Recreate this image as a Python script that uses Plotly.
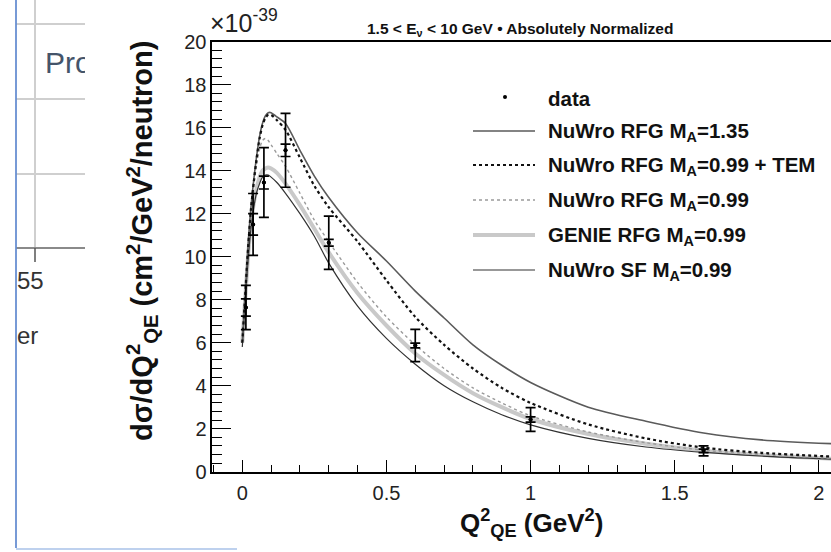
import plotly.graph_objects as go

W, H = 831, 552

# ---------------- data ----------------
q2_data = [0.0125, 0.0375, 0.075, 0.15, 0.3, 0.6, 1.0, 1.6]
xs_data = [7.64, 11.5, 13.45, 14.95, 10.65, 5.87, 2.43, 0.97]
err_stat = [0.40, 0.50, 0.30, 0.29, 0.16, 0.11, 0.12, 0.08]
err_total = [1.03, 1.44, 1.62, 1.72, 1.24, 0.75, 0.55, 0.23]

q2_model = [0.0, 0.01, 0.02, 0.03, 0.04, 0.05, 0.06, 0.07, 0.08, 0.09, 0.10, 0.12,
            0.15, 0.20, 0.25, 0.30, 0.40, 0.50, 0.60, 0.70, 0.80, 0.90, 1.00, 1.20,
            1.40, 1.60, 1.80, 2.05]
nuwro_rfg_135 = [6.0, 8.2, 10.5, 12.3, 13.6, 14.7, 15.6, 16.2, 16.55, 16.7, 16.7, 16.5,
                 16.2, 14.95, 13.75, 12.75, 11.1, 9.8, 8.4, 7.15, 5.9, 4.95, 4.15, 3.0,
                 2.35, 1.8, 1.48, 1.3]
nuwro_rfg_099_tem = [6.0, 8.2, 10.4, 12.2, 13.5, 14.6, 15.5, 16.1, 16.45, 16.6, 16.6, 16.35,
                     15.9, 14.6, 13.3, 12.3, 10.7, 8.9, 7.2, 5.9, 4.8, 3.9, 3.2, 2.2,
                     1.55, 1.12, 0.88, 0.7]
nuwro_rfg_099 = [6.0, 8.1, 10.3, 12.0, 13.3, 14.3, 15.0, 15.4, 15.5, 15.4, 15.2, 14.8,
                 14.2, 12.95, 11.7, 10.7, 8.8, 7.2, 5.9, 4.8, 3.9, 3.2, 2.6, 1.85,
                 1.35, 1.0, 0.8, 0.62]
genie_rfg_099 = [6.0, 8.0, 10.0, 11.5, 12.5, 13.2, 13.7, 14.0, 14.1, 14.15, 14.1, 13.9,
                 13.4, 12.4, 11.3, 10.2, 8.3, 6.8, 5.5, 4.5, 3.65, 3.0, 2.45, 1.75,
                 1.3, 0.98, 0.78, 0.6]
nuwro_sf_099 = [5.8, 7.9, 9.8, 11.3, 12.3, 13.0, 13.4, 13.7, 13.8, 13.8, 13.7, 13.45,
                12.95, 12.0, 10.95, 9.7, 7.7, 6.2, 5.0, 4.0, 3.25, 2.65, 2.18, 1.55,
                1.15, 0.9, 0.73, 0.58]

legend_labels = ["data", "NuWro RFG M<sub>A</sub>=1.35", "NuWro RFG M<sub>A</sub>=0.99 + TEM",
                 "NuWro RFG M<sub>A</sub>=0.99", "GENIE RFG M<sub>A</sub>=0.99",
                 "NuWro SF M<sub>A</sub>=0.99"]

x_ticks = [0, 0.5, 1, 1.5, 2]
x_tick_text = ["0", "0.5", "1", "1.5", "2"]
y_ticks = [0, 2, 4, 6, 8, 10, 12, 14, 16, 18, 20]

# ---------------- styles ----------------
styles = {
    "a": dict(color="#5a5a5a", width=1.6, dash="solid"),
    "b": dict(color="#111111", width=2.2, dash="3px,3px"),
    "c": dict(color="#9a9a9a", width=1.4, dash="3px,3px"),
    "d": dict(color="#c9c9c9", width=4.0, dash="solid"),
    "e": dict(color="#333333", width=1.2, dash="solid"),
}

FONT = "Liberation Sans, Arial, Helvetica, sans-serif"


def px(xp):
    return xp / W


def py(yp):
    return 1 - yp / H


fig = go.Figure()

curves = [("d", genie_rfg_099), ("e", nuwro_sf_099), ("c", nuwro_rfg_099),
          ("a", nuwro_rfg_135), ("b", nuwro_rfg_099_tem)]
for key, vals in curves:
    s = styles[key]
    fig.add_trace(go.Scatter(x=q2_model, y=vals, mode="lines",
                             line=dict(color=s["color"], width=s["width"], dash=s["dash"],
                                       shape="spline", smoothing=0.8),
                             showlegend=False, xaxis="x", yaxis="y"))

# data with total and stat error bars
fig.add_trace(go.Scatter(x=q2_data, y=xs_data, mode="markers",
                         marker=dict(color="black", size=4),
                         error_y=dict(type="data", array=err_total, color="black",
                                      thickness=1.7, width=5),
                         showlegend=False, xaxis="x", yaxis="y"))
fig.add_trace(go.Scatter(x=q2_data, y=xs_data, mode="markers",
                         marker=dict(color="black", size=4),
                         error_y=dict(type="data", array=err_stat, color="black",
                                      thickness=1.7, width=5),
                         showlegend=False, xaxis="x", yaxis="y"))

# left webpage fragment texts (clipped subplot)
fig.add_trace(go.Scatter(x=[45, 17, 17], y=[65, 283, 338], mode="text",
                         text=["Pro", "55", "er"], textposition="middle right",
                         textfont=dict(family=FONT, size=[30, 24, 24],
                                       color=["#44546a", "#333333", "#333333"]),
                         cliponaxis=True, showlegend=False, xaxis="x2", yaxis="y2"))

x0_px, x1_px = 212.3, 831.0
y_top_px, y_bot_px = 41.7, 471.7

fig.update_layout(
    width=W, height=H,
    margin=dict(l=0, r=0, t=0, b=0, pad=0, autoexpand=False),
    paper_bgcolor="white", plot_bgcolor="white",
    font=dict(family=FONT, color="#111111"),
    xaxis=dict(domain=[px(x0_px), px(x1_px)], range=[-0.104, 2.042],
               tickvals=x_ticks, ticktext=x_tick_text,
               ticks="inside", ticklen=12, tickwidth=1.3, tickcolor="black",
               minor=dict(dtick=0.1, tick0=0, ticks="inside", ticklen=7, tickwidth=1.2,
                          tickcolor="black", showgrid=False),
               showline=True, linecolor="black", linewidth=1.8, mirror=True,
               showgrid=False, zeroline=False, automargin=False,
               tickfont=dict(size=20, color="#222222"), ticklabelstandoff=2,
               anchor="y"),
    yaxis=dict(domain=[py(y_bot_px), py(y_top_px)], range=[0, 20],
               tickvals=y_ticks,
               ticks="inside", ticklen=19, tickwidth=1.3, tickcolor="black",
               minor=dict(dtick=0.4, tick0=0, ticks="inside", ticklen=10, tickwidth=1.2,
                          tickcolor="black", showgrid=False),
               showline=True, linecolor="black", linewidth=1.6,
               showgrid=False, zeroline=False, automargin=False,
               tickfont=dict(size=20, color="#222222"), ticklabelstandoff=0,
               anchor="x"),
    xaxis2=dict(domain=[px(16.5), px(85)], range=[16.5, 85], visible=False,
                fixedrange=True, anchor="y2", automargin=False),
    yaxis2=dict(domain=[0, 1], range=[H, 0], visible=False, fixedrange=True,
                anchor="x2", automargin=False),
)

shapes = []
# left fragment: grid lines
for yy in [24, 99, 174]:
    shapes.append(dict(type="line", xref="x2", yref="y2", x0=16, x1=90, y0=yy, y1=yy,
                       line=dict(color="#cfcfcf", width=2)))
shapes.append(dict(type="line", xref="x2", yref="y2", x0=35, x1=35, y0=0, y1=248,
                   line=dict(color="#cfcfcf", width=2)))
shapes.append(dict(type="line", xref="x2", yref="y2", x0=16, x1=90, y0=248, y1=248,
                   line=dict(color="#8a8a8a", width=2)))
shapes.append(dict(type="line", xref="x2", yref="y2", x0=35, x1=35, y0=248, y1=262,
                   line=dict(color="#555555", width=1.5)))
# blue border
shapes.append(dict(type="line", xref="paper", yref="paper", x0=px(16), x1=px(16),
                   y0=py(0), y1=py(548), line=dict(color="#4a78c8", width=1.5)))
shapes.append(dict(type="line", xref="paper", yref="paper", x0=px(16), x1=px(237),
                   y0=py(549), y1=py(549), line=dict(color="#a9c2e8", width=1.5)))

# legend samples
rows_y = [97, 131, 165, 200, 235, 270]
keys = [None, "a", "b", "c", "d", "e"]
for yy, key in zip(rows_y, keys):
    if key is None:
        shapes.append(dict(type="circle", xref="paper", yref="paper",
                           x0=px(503), x1=px(507), y0=py(yy - 2), y1=py(yy + 2),
                           fillcolor="black", line=dict(width=0)))
    else:
        s = styles[key]
        shapes.append(dict(type="line", xref="paper", yref="paper",
                           x0=px(473), x1=px(535), y0=py(yy), y1=py(yy),
                           line=dict(color=s["color"], width=s["width"],
                                     dash=s["dash"])))
fig.update_layout(shapes=shapes)

annotations = []
for yy, lab in zip(rows_y, legend_labels):
    annotations.append(dict(xref="paper", yref="paper", x=px(546), y=py(yy + 1),
                            xanchor="left", yanchor="middle", showarrow=False,
                            text="<b>" + lab + "</b>",
                            font=dict(family=FONT, size=20.5, color="#111111")))
annotations.append(dict(xref="paper", yref="paper", x=px(520), y=py(29),
                        xanchor="center", yanchor="middle", showarrow=False,
                        text="<b>1.5 &lt; E<sub>ν</sub> &lt; 10 GeV • Absolutely Normalized</b>",
                        font=dict(family=FONT, size=15.5, color="#111111")))
annotations.append(dict(xref="paper", yref="paper", x=px(208), y=py(21),
                        xanchor="left", yanchor="middle", showarrow=False,
                        text="×10<sup>-39</sup>",
                        font=dict(family=FONT, size=25, color="#222222")))
annotations.append(dict(xref="paper", yref="paper", x=px(142), y=py(241),
                        xanchor="center", yanchor="middle", showarrow=False, textangle=-90,
                        text="<b>dσ/dQ<sup>2</sup><sub>QE</sub> (cm<sup>2</sup>/GeV<sup>2</sup>/neutron)</b>",
                        font=dict(family=FONT, size=29, color="#111111")))
annotations.append(dict(xref="paper", yref="paper", x=px(531), y=py(523),
                        xanchor="center", yanchor="middle", showarrow=False,
                        text="<b>Q<sup>2</sup><sub>QE</sub> (GeV<sup>2</sup>)</b>",
                        font=dict(family=FONT, size=26, color="#111111")))
fig.update_layout(annotations=annotations)

fig.write_html("out.html",
               config={"displayModeBar": False},
               post_script="document.body.style.margin='0px';document.body.style.overflow='hidden';")
